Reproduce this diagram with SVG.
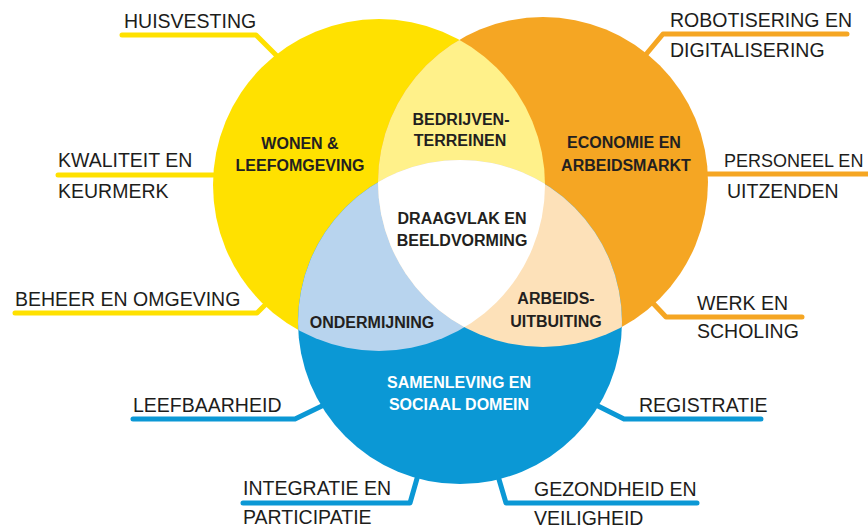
<svg xmlns="http://www.w3.org/2000/svg" width="868" height="531" viewBox="0 0 868 531">
<style>
.lbl{font-family:"Liberation Sans",Arial,sans-serif;font-size:19.5px;fill:#1d1d1b}
.hd{font-family:"Liberation Sans",Arial,sans-serif;font-size:16px;font-weight:bold;fill:#231f20;text-anchor:middle}
.wh{fill:#ffffff}
.con{fill:none;stroke-width:5;stroke-linecap:round;stroke-linejoin:round}
.cy{stroke:#ffe100}.co{stroke:#f5a623}.cb{stroke:#0b98d5}
</style>
<defs>
<clipPath id="clipY"><circle cx="379" cy="185" r="166"/></clipPath>
<clipPath id="clipO"><circle cx="543" cy="182" r="165"/></clipPath>
<clipPath id="clipB"><circle cx="460" cy="322" r="162"/></clipPath>
</defs>
<rect width="868" height="531" fill="#ffffff"/>
<g id="connectors">
<polyline class="con cy" points="122,35 256,35 278,57"/>
<polyline class="con cy" points="58,175 216,175"/>
<polyline class="con cy" points="15,313 257,313 270,300"/>
<polyline class="con co" points="847,34 663,34 643,58"/>
<polyline class="con co" points="704,174 872,174"/>
<polyline class="con co" points="802,317 666,317 650,300"/>
<polyline class="con cb" points="133,419 295,419 326,404"/>
<polyline class="con cb" points="243,503 410,503 418,475"/>
<polyline class="con cb" points="761,419 624,419 594,404"/>
<polyline class="con cb" points="697,503 506,503 498,476"/>
</g>
<g id="wonen">
<circle cx="379" cy="185" r="166" fill="#ffe100"/>
</g>
<g id="economie">
<circle cx="543" cy="182" r="165" fill="#f5a623"/>
</g>
<g id="samenleving">
<circle cx="460" cy="322" r="162" fill="#0b98d5"/>
</g>
<g id="bedrijventerreinen">
<g clip-path="url(#clipY)"><circle cx="543" cy="182" r="165" fill="#fff18a"/></g>
</g>
<g id="ondermijning">
<g clip-path="url(#clipY)"><circle cx="460" cy="322" r="162" fill="#b8d4ee"/></g>
</g>
<g id="arbeidsuitbuiting">
<g clip-path="url(#clipO)"><circle cx="460" cy="322" r="162" fill="#fde1b9"/></g>
</g>
<g id="draagvlak">
<g clip-path="url(#clipY)"><g clip-path="url(#clipO)"><circle cx="460" cy="322" r="162" fill="#ffffff"/></g></g>
</g>
<g id="labels-main">
<text class="hd" x="300" y="149">WONEN &amp;</text>
<text class="hd" x="300" y="171">LEEFOMGEVING</text>
<text class="hd" x="624" y="148">ECONOMIE EN</text>
<text class="hd" x="626" y="171">ARBEIDSMARKT</text>
<text class="hd wh" x="459" y="388">SAMENLEVING EN</text>
<text class="hd wh" x="459" y="410">SOCIAAL DOMEIN</text>
<text class="hd" x="461" y="125">BEDRIJVEN-</text>
<text class="hd" x="460" y="146">TERREINEN</text>
<text class="hd" x="462" y="224">DRAAGVLAK EN</text>
<text class="hd" x="462" y="246">BEELDVORMING</text>
<text class="hd" x="372" y="328">ONDERMIJNING</text>
<text class="hd" x="556" y="304">ARBEIDS-</text>
<text class="hd" x="556" y="327">UITBUITING</text>
</g>
<g id="labels-outer">
<text class="lbl" x="124" y="28">HUISVESTING</text>
<text class="lbl" x="58" y="167">KWALITEIT EN</text>
<text class="lbl" x="58" y="198">KEURMERK</text>
<text class="lbl" x="15" y="306">BEHEER EN OMGEVING</text>
<text class="lbl" x="670" y="27">ROBOTISERING EN</text>
<text class="lbl" x="670" y="57">DIGITALISERING</text>
<text class="lbl" x="724" y="167" style="font-size:18px">PERSONEEL EN</text>
<text class="lbl" x="727" y="198">UITZENDEN</text>
<text class="lbl" x="697" y="310">WERK EN</text>
<text class="lbl" x="697" y="338">SCHOLING</text>
<text class="lbl" x="133" y="412">LEEFBAARHEID</text>
<text class="lbl" x="639" y="412">REGISTRATIE</text>
<text class="lbl" x="243" y="495">INTEGRATIE EN</text>
<text class="lbl" x="243" y="524">PARTICIPATIE</text>
<text class="lbl" x="534" y="496">GEZONDHEID EN</text>
<text class="lbl" x="534" y="525">VEILIGHEID</text>
</g>
</svg>
